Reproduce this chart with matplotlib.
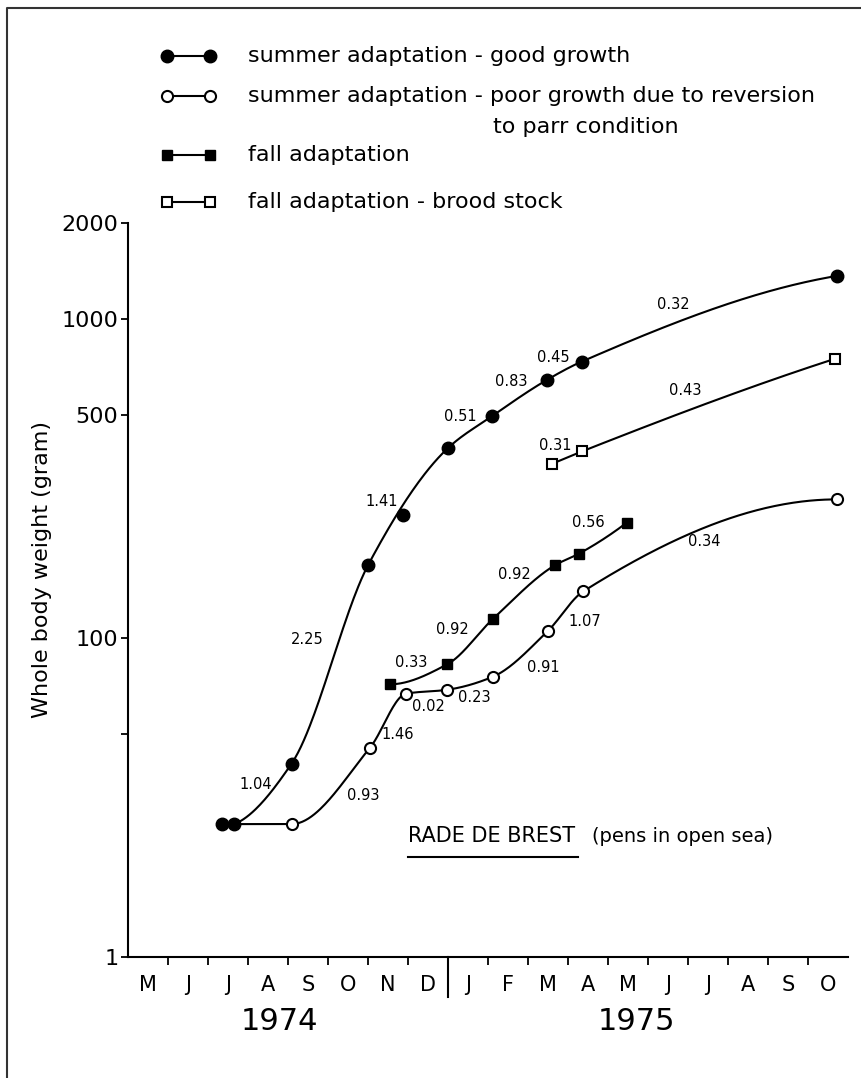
import numpy as np
import matplotlib
matplotlib.use("Agg")
import matplotlib.pyplot as plt
from matplotlib.lines import Line2D
import matplotlib.transforms as mtransforms

# ---------------- data ----------------
months = ['M', 'J', 'J', 'A', 'S', 'O', 'N', 'D', 'J', 'F', 'M', 'A', 'M', 'J', 'J', 'A', 'S', 'O']
years = ['1974', '1975']

# x = months elapsed since 1 May 1974, y = whole body weight (g)
good_x = [2.34, 2.66, 4.09, 6.01, 6.88, 7.99, 9.09, 10.47, 11.34, 17.72]
good_y = [26.1, 26.1, 40.4, 170, 243, 393, 495, 644, 735, 1365]
poor_x = [4.09, 6.05, 6.95, 7.97, 9.12, 10.49, 11.38, 17.72]
poor_y = [26.1, 45.3, 66.9, 68.8, 75.6, 105, 140, 272]
fall_x = [6.55, 7.98, 9.13, 10.67, 11.28, 12.47]
fall_y = [71.6, 82.7, 115, 169, 184, 230]
brood_x = [10.61, 11.36, 17.68]
brood_y = [352, 385, 751]

# growth rates (% per day) written along the curves
good_rates = ['1.04', '2.25', '1.41', '0.51', '0.83', '0.45', '0.32']
poor_rates = ['0.93', '1.46', '0.02', '0.23', '0.91', '1.07', '0.34']
fall_rates = ['0.33', '0.92', '0.92', '0.56']
brood_rates = ['0.31', '0.43']

ytick_vals = [10, 50, 100, 500, 1000, 2000]
ytick_labels = ['1', '', '100', '500', '1000', '2000']

legend_labels = ['summer adaptation - good growth',
                 'summer adaptation - poor growth due to reversion',
                 'fall adaptation',
                 'fall adaptation - brood stock']

# ---------------- layout (label placement) ----------------
good_rate_pos = [(3.2, 34.8), (4.47, 98.6), (6.34, 267), (8.3, 496), (9.58, 636), (10.63, 756), (13.63, 1107)]
poor_rate_pos = [(5.88, 32.0), (6.74, 49.9), (7.51, 61.2), (8.65, 65.3), (10.38, 81.1), (11.41, 113), (14.41, 200)]
fall_rate_pos = [(7.07, 83.7), (8.12, 106), (9.66, 158), (11.51, 230)]
brood_rate_pos = [(10.68, 402), (13.93, 597)]


def pchip(x, y, xs):
    x = np.asarray(x, float)
    y = np.asarray(y, float)
    h = np.diff(x)
    d = np.diff(y) / h
    n = len(x)
    m = np.zeros(n)
    if n == 2:
        m[:] = d[0]
    else:
        for k in range(1, n - 1):
            if d[k - 1] * d[k] <= 0:
                m[k] = 0.0
            else:
                w1 = 2 * h[k] + h[k - 1]
                w2 = h[k] + 2 * h[k - 1]
                m[k] = (w1 + w2) / (w1 / d[k - 1] + w2 / d[k])

        def endslope(h0, h1, d0, d1):
            s = ((2 * h0 + h1) * d0 - h0 * d1) / (h0 + h1)
            if np.sign(s) != np.sign(d0):
                s = 0.0
            elif np.sign(d0) != np.sign(d1) and abs(s) > abs(3 * d0):
                s = 3 * d0
            return s
        m[0] = endslope(h[0], h[1], d[0], d[1])
        m[-1] = endslope(h[-1], h[-2], d[-1], d[-2])
    idx = np.clip(np.searchsorted(x, xs) - 1, 0, n - 2)
    t = (xs - x[idx]) / h[idx]
    h00 = 2 * t**3 - 3 * t**2 + 1
    h10 = t**3 - 2 * t**2 + t
    h01 = -2 * t**3 + 3 * t**2
    h11 = t**3 - t**2
    return h00 * y[idx] + h10 * h[idx] * m[idx] + h01 * y[idx + 1] + h11 * h[idx] * m[idx + 1]


def smooth(xp, yp):
    xs = np.linspace(xp[0], xp[-1], 400)
    ys = 10 ** pchip(xp, np.log10(yp), xs)
    return xs, ys


W, H = 861, 1078
fig = plt.figure(figsize=(W / 100, H / 100), dpi=100)
plt.rcParams['font.family'] = ['DejaVu Sans']

ax = fig.add_axes([128 / W, 1 - 957 / H, 720 / W, (957 - 223) / H])
ax.set_yscale('log')
ax.set_xlim(0, 18)
ax.set_ylim(10, 2000)

lw = 1.5
# curves
gx = [good_x[i] for i in range(1, len(good_x)) if i != 4]
gy = [good_y[i] for i in range(1, len(good_y)) if i != 4]
ax.plot(*smooth(gx, gy), color='black', lw=lw)
px = [good_x[1]] + poor_x
py = [good_y[1]] + poor_y
ax.plot(*smooth(px, py), color='black', lw=lw)
ax.plot(*smooth(fall_x, fall_y), color='black', lw=lw)
ax.plot(*smooth(brood_x, brood_y), color='black', lw=lw)

# markers
ax.plot(good_x, good_y, 'o', ms=9, color='black', zorder=5)
ax.plot(poor_x, poor_y, 'o', ms=8, mfc='white', mec='black', mew=1.5, zorder=5)
ax.plot(fall_x, fall_y, 's', ms=7.5, color='black', zorder=5)
ax.plot(brood_x, brood_y, 's', ms=7.5, mfc='white', mec='black', mew=1.5, zorder=5)

# rate labels
for labels, pos in [(good_rates, good_rate_pos), (poor_rates, poor_rate_pos),
                    (fall_rates, fall_rate_pos), (brood_rates, brood_rate_pos)]:
    for t, (x, y) in zip(labels, pos):
        ax.text(x, y, t, ha='center', va='center', fontsize=10.5)

# axes styling
for s in ['top', 'right']:
    ax.spines[s].set_visible(False)
for s in ['left', 'bottom']:
    ax.spines[s].set_linewidth(1.5)

ax.set_yticks(ytick_vals)
ax.set_yticklabels(ytick_labels, fontsize=16)
ax.yaxis.set_minor_locator(matplotlib.ticker.NullLocator())
ax.tick_params(axis='y', which='major', direction='out', length=5, width=1.3, pad=2)

ax.set_xticks(np.arange(1, 18))
ax.set_xticklabels([])
ax.set_xticks(np.arange(len(months)) + 0.5, minor=True)
ax.set_xticklabels(months, minor=True, fontsize=15)
ax.tick_params(axis='x', which='major', direction='out', length=6, width=1.3)
ax.tick_params(axis='x', which='minor', length=0, pad=13)

trans = mtransforms.blended_transform_factory(ax.transData, ax.transAxes)
ax.plot([8, 8], [0, -0.055], transform=trans, color='black', lw=1.5, clip_on=False)
ax.text(3.78, -0.088, years[0], transform=trans, ha='center', va='center', fontsize=22)
ax.text(12.7, -0.088, years[1], transform=trans, ha='center', va='center', fontsize=22)

ax.set_ylabel('Whole body weight (gram)', fontsize=16)
ax.yaxis.set_label_coords(-76 / 720, (957 - 570) / (957 - 223))

# station label
ax.text(7.0, 23.9, 'RADE DE BREST', fontsize=15, ha='left', va='center')
ax.text(11.6, 23.9, '(pens in open sea)', fontsize=14, ha='left', va='center')
ax.plot([7.0, 11.25], [20.6, 20.6], color='black', lw=1.5)

# legend drawn at top of the figure
rows_y = [56, 96, 155, 202]
styles = [dict(marker='o', ms=9, mfc='black', mec='black'),
          dict(marker='o', ms=8, mfc='white', mec='black', mew=1.5),
          dict(marker='s', ms=7.5, mfc='black', mec='black'),
          dict(marker='s', ms=7.5, mfc='white', mec='black', mew=1.5)]
for yy, st, lab in zip(rows_y, styles, legend_labels):
    fy = 1 - yy / H
    fig.add_artist(Line2D([167 / W, 210 / W], [fy, fy], color='black', lw=1.5, **st))
    fig.text(248 / W, fy, lab, fontsize=16, ha='left', va='center')
fig.text(493 / W, 1 - 127 / H, 'to parr condition', fontsize=16, ha='left', va='center')

# scan frame
fig.add_artist(Line2D([7 / W, 7 / W, 1.0], [0.0, 1 - 8 / H, 1 - 8 / H], color='#333333', lw=1.5))

fig.savefig('out.png', dpi=100)
